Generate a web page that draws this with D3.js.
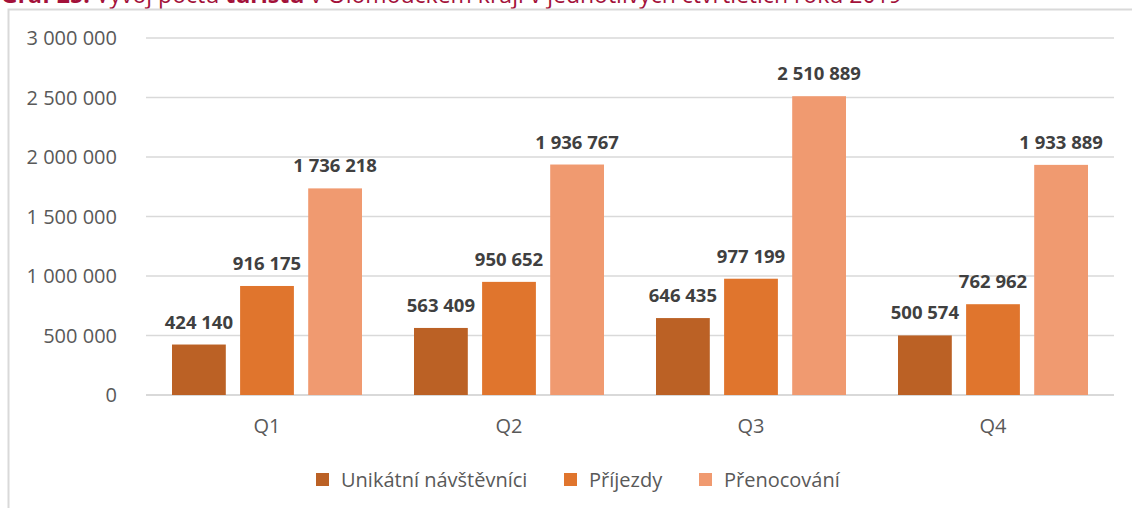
<!DOCTYPE html>
<html>
<head>
<meta charset="utf-8">
<script src="https://cdn.jsdelivr.net/npm/d3@7"></script>
<style>
  body { margin: 0; background: #fff; }
  svg { display: block; font-family: "Open Sans", sans-serif; }
</style>
</head>
<body>
<svg width="1132" height="508"></svg>
<script>
var width = 1132, height = 508;

var quarters = ["Q1", "Q2", "Q3", "Q4"];
var seriesNames = ["Unikátní návštěvníci", "Příjezdy", "Přenocování"];
var unikatni = [424140, 563409, 646435, 500574];
var prijezdy = [916175, 950652, 977199, 762962];
var prenocovani = [1736218, 1936767, 2510889, 1933889];
var yTicks = [0, 500000, 1000000, 1500000, 2000000, 2500000, 3000000];
var colors = ["#bb6125", "#e0752d", "#f09a70"];

var seriesValues = [unikatni, prijezdy, prenocovani];

var locale = d3.formatLocale({decimal: ",", thousands: " ", grouping: [3], currency: ["", ""]});
var fmt = locale.format(",d");

var svg = d3.select("svg");

// title (cropped at top, like the original screenshot)
var title = svg.append("text")
    .attr("x", 1).attr("y", 3)
    .attr("fill", "#a3113a")
    .style("font-size", "23px");
title.append("tspan").attr("font-weight", "bold").text("Graf 25: ");
title.append("tspan").text("Vývoj počtu ");
title.append("tspan").attr("font-weight", "bold").text("turistů");
title.append("tspan").text(" v Olomouckém kraji v jednotlivých čtvrtletích roku 2019");

// chart frame
svg.append("path")
    .attr("d", "M8.5," + height + "V9.5H" + width)
    .attr("fill", "none")
    .attr("stroke", "#d9d9d9")
    .attr("stroke-width", 2);

var x0 = d3.scaleBand().domain(quarters).range([146, 1114]);
var x1 = d3.scaleBand().domain(d3.range(3))
    .range([26, x0.bandwidth() - 26])
    .paddingInner(0.21);
var y = d3.scaleLinear().domain([0, 3000000]).range([395, 38]);

// gridlines
svg.append("g").selectAll("line")
    .data(yTicks)
    .join("line")
    .attr("x1", 146).attr("x2", 1114)
    .attr("y1", function(d) { return y(d); })
    .attr("y2", function(d) { return y(d); })
    .attr("stroke", "#d9d9d9")
    .attr("stroke-width", function(d) { return d === 0 ? 2 : 1.5; });

// y axis labels
svg.append("g").selectAll("text")
    .data(yTicks)
    .join("text")
    .attr("x", 117)
    .attr("y", function(d) { return y(d); })
    .attr("dy", "0.36em")
    .attr("text-anchor", "end")
    .attr("fill", "#595959")
    .style("font-size", "20px")
    .text(function(d) { return fmt(d); });

// bars
var groups = svg.append("g").selectAll("g")
    .data(quarters)
    .join("g")
    .attr("transform", function(d) { return "translate(" + x0(d) + ",0)"; });

var cells = groups.selectAll("g")
    .data(function(q, i) { return seriesValues.map(function(s, k) { return {k: k, v: s[i]}; }); })
    .join("g");

cells.append("rect")
    .attr("x", function(d) { return x1(d.k); })
    .attr("width", x1.bandwidth())
    .attr("y", function(d) { return y(d.v); })
    .attr("height", function(d) { return y(0) - y(d.v); })
    .attr("fill", function(d) { return colors[d.k]; });

cells.append("text")
    .attr("x", function(d) { return x1(d.k) + x1.bandwidth() / 2; })
    .attr("y", function(d) { return y(d.v) - 16; })
    .attr("text-anchor", "middle")
    .attr("fill", "#404040")
    .attr("font-weight", "bold")
    .style("font-size", "18.5px")
    .text(function(d) { return fmt(d.v); });

// category labels
svg.append("g").selectAll("text")
    .data(quarters)
    .join("text")
    .attr("x", function(d) { return x0(d) + x0.bandwidth() / 2; })
    .attr("y", 433)
    .attr("text-anchor", "middle")
    .attr("fill", "#595959")
    .style("font-size", "20px")
    .text(function(d) { return d; });

// legend
var legendX = [316, 564, 699];
var legend = svg.append("g").selectAll("g")
    .data(seriesNames)
    .join("g")
    .attr("transform", function(d, i) { return "translate(" + legendX[i] + ",473)"; });
legend.append("rect")
    .attr("width", 13).attr("height", 13)
    .attr("fill", function(d, i) { return colors[i]; });
legend.append("text")
    .attr("x", 25).attr("y", 6.5)
    .attr("dy", "0.36em")
    .attr("fill", "#595959")
    .style("font-size", "20px")
    .text(function(d) { return d; });
</script>
</body>
</html>
